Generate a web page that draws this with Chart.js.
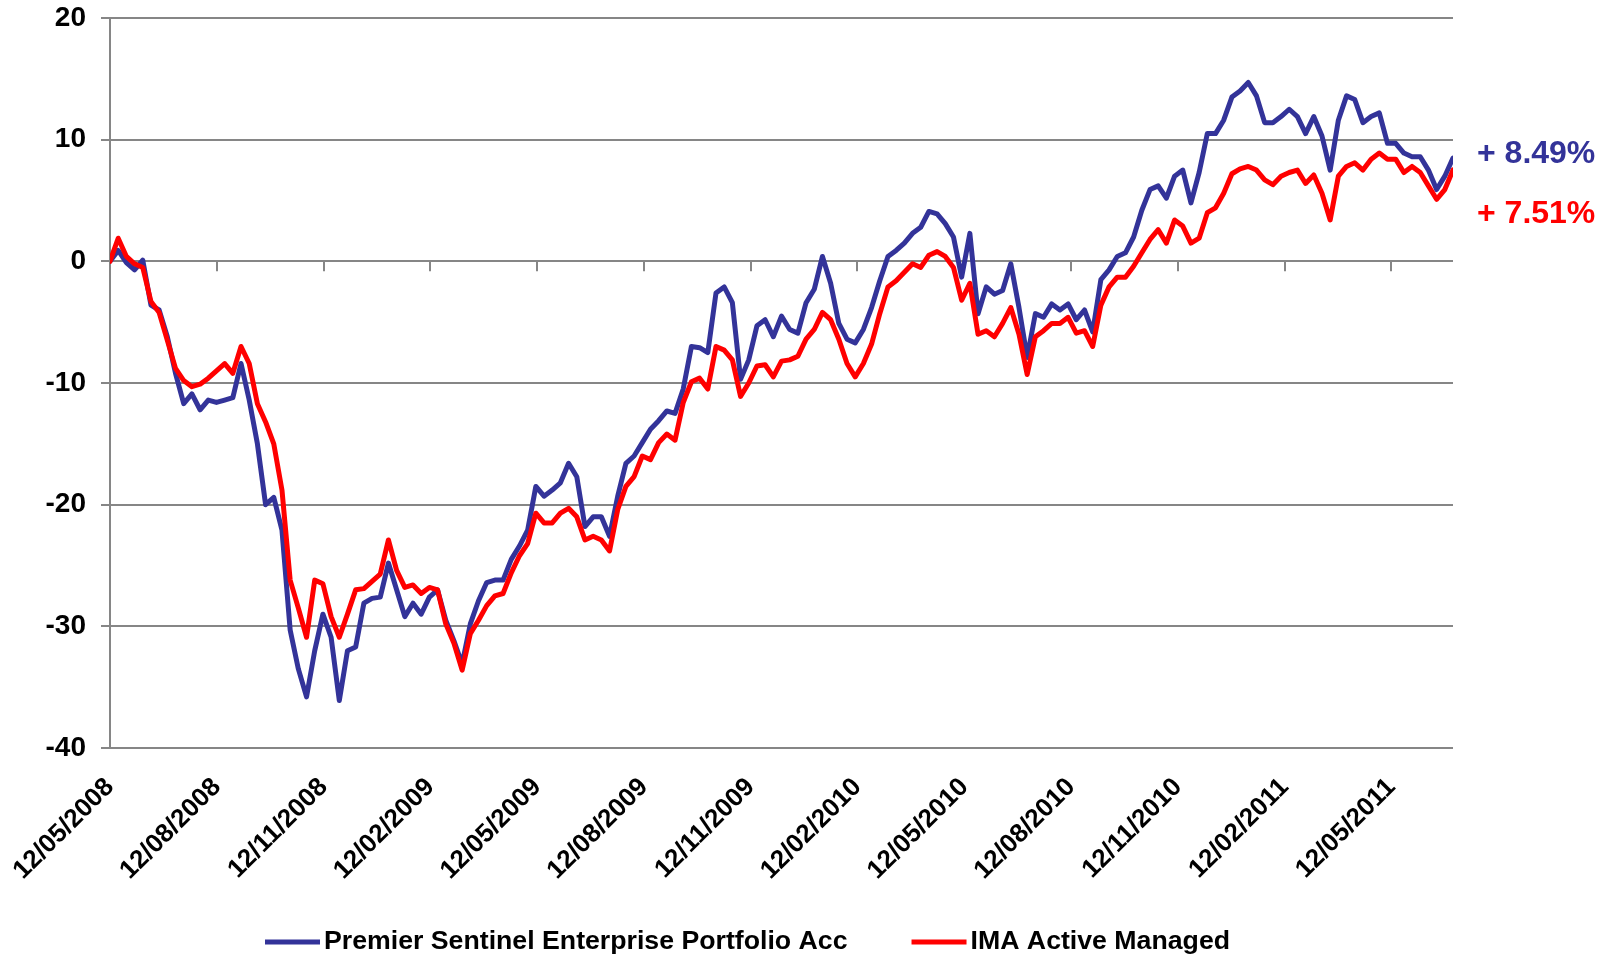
<!DOCTYPE html>
<html>
<head>
<meta charset="utf-8">
<script src="https://cdn.jsdelivr.net/npm/chart.js@4.4.1/dist/chart.umd.min.js"></script>
<style>
  html, body { margin: 0; padding: 0; background: #fff; }
  canvas { display: block; }
</style>
</head>
<body>
<canvas id="chart" width="1608" height="958"></canvas>
<script>
// quarterly tick labels, one every 13.04 weeks from the start
const TICK_LABELS = [
  "12/05/2008", "12/08/2008", "12/11/2008", "12/02/2009", "12/05/2009",
  "12/08/2009", "12/11/2009", "12/02/2010", "12/05/2010", "12/08/2010",
  "12/11/2010", "12/02/2011", "12/05/2011"
];
const WEEKS_PER_QUARTER = 13.04;

const SERIES_NAMES = ["Premier Sentinel Enterprise Portfolio Acc", "IMA Active Managed"];
const END_LABELS = ["+ 8.49%", "+ 7.51%"];

// weekly % growth
const SENTINEL = [
  0, 0.9, -0.1, -0.7, 0.1, -3.6, -4.0, -6.2, -9.2, -11.7,
  -10.9, -12.2, -11.4, -11.6, -11.4, -11.2, -8.4, -11.4, -15.0, -20.0,
  -19.4, -22.1, -30.3, -33.5, -35.8, -32.0, -29.0, -30.9, -36.1, -32.0,
  -31.7, -28.1, -27.7, -27.6, -24.8, -27.0, -29.2, -28.1, -29.0, -27.6,
  -27.0, -29.5, -31.2, -33.1, -29.8, -27.9, -26.4, -26.2, -26.2, -24.5,
  -23.4, -22.1, -18.5, -19.3, -18.8, -18.2, -16.6, -17.7, -21.8, -21.0,
  -21.0, -22.6, -19.3, -16.6, -16.0, -14.9, -13.8, -13.1, -12.3, -12.5,
  -10.5, -7.0, -7.1, -7.5, -2.6, -2.1, -3.4, -9.7, -8.1, -5.3,
  -4.8, -6.2, -4.5, -5.6, -5.9, -3.4, -2.3, 0.4, -1.8, -5.1,
  -6.4, -6.7, -5.6, -3.8, -1.6, 0.4, 0.9, 1.5, 2.3, 2.8,
  4.1, 3.9, 3.1, 2.0, -1.3, 2.3, -4.3, -2.1, -2.7, -2.4,
  -0.2, -3.8, -7.9, -4.3, -4.6, -3.5, -4.0, -3.5, -4.8, -4.0,
  -5.8, -1.5, -0.7, 0.4, 0.7, 2.0, 4.2, 5.9, 6.2, 5.2,
  7.0, 7.5, 4.8, 7.3, 10.5, 10.5, 11.6, 13.5, 14.0, 14.7,
  13.6, 11.4, 11.4, 11.9, 12.5, 11.9, 10.5, 11.9, 10.3, 7.5,
  11.6, 13.6, 13.3, 11.4, 11.9, 12.2, 9.7, 9.7, 8.9, 8.6,
  8.6, 7.5, 5.9, 7.0, 8.49
];
const IMA_ACTIVE = [
  0, 1.9, 0.4, -0.2, -0.5, -3.3, -4.2, -6.5, -8.8, -9.8,
  -10.3, -10.1, -9.6, -9.0, -8.4, -9.2, -7.0, -8.4, -11.7, -13.2,
  -15.0, -18.8, -26.2, -28.5, -30.9, -26.2, -26.5, -29.2, -30.9, -29.0,
  -27.0, -26.9, -26.3, -25.7, -22.9, -25.4, -26.8, -26.6, -27.3, -26.8,
  -27.0, -29.8, -31.4, -33.6, -30.6, -29.5, -28.3, -27.5, -27.3, -25.6,
  -24.2, -23.2, -20.7, -21.5, -21.5, -20.7, -20.3, -21.0, -22.9, -22.6,
  -22.9, -23.8, -20.4, -18.5, -17.7, -16.0, -16.3, -14.9, -14.2, -14.7,
  -11.6, -9.9, -9.6, -10.5, -7.0, -7.3, -8.1, -11.1, -10.0, -8.6,
  -8.5, -9.5, -8.2, -8.1, -7.8, -6.4, -5.6, -4.2, -4.8, -6.4,
  -8.4, -9.5, -8.4, -6.8, -4.3, -2.1, -1.6, -0.9, -0.2, -0.5,
  0.5, 0.8, 0.4, -0.5, -3.2, -1.8, -6.0, -5.7, -6.2, -5.1,
  -3.8, -6.0, -9.3, -6.2, -5.7, -5.1, -5.1, -4.6, -5.9, -5.7,
  -7.0, -3.6, -2.1, -1.3, -1.3, -0.4, 0.7, 1.8, 2.6, 1.5,
  3.4, 2.9, 1.5, 1.9, 4.0, 4.4, 5.6, 7.2, 7.6, 7.8,
  7.5, 6.7, 6.3, 7.0, 7.3, 7.5, 6.4, 7.1, 5.6, 3.4,
  7.0, 7.8, 8.1, 7.5, 8.4, 8.9, 8.4, 8.4, 7.3, 7.8,
  7.3, 6.2, 5.1, 5.9, 7.51
];

const BLUE = "#333399";
const RED = "#ff0000";
const GRID = "#868686";
const FONT = "'Liberation Sans', Arial, sans-serif";

const toPoints = values => values.map((y, x) => ({ x, y }));

// small tick marks hang from the zero line, as in Excel
const zeroTicks = {
  id: "zeroTicks",
  beforeDatasetsDraw(chart) {
    const { ctx, scales: { x, y } } = chart;
    const y0 = y.getPixelForValue(0);
    ctx.save();
    ctx.strokeStyle = GRID;
    ctx.lineWidth = 2;
    x.ticks.forEach(t => {
      const px = Math.round(x.getPixelForValue(t.value));
      ctx.beginPath();
      ctx.moveTo(px, y0);
      ctx.lineTo(px, y0 + 10);
      ctx.stroke();
    });
    ctx.restore();
  }
};

const endLabels = {
  id: "endLabels",
  afterDraw(chart) {
    const { ctx, chartArea } = chart;
    ctx.save();
    ctx.font = `bold 32px ${FONT}`;
    ctx.textBaseline = "middle";
    ctx.fillStyle = BLUE;
    ctx.fillText(END_LABELS[0], chartArea.right + 24, chartArea.top + 136);
    ctx.fillStyle = RED;
    ctx.fillText(END_LABELS[1], chartArea.right + 24, chartArea.top + 196);
    ctx.restore();
  }
};

const lineLegend = {
  id: "lineLegend",
  afterDraw(chart) {
    const { ctx, chartArea } = chart;
    const y = chart.height - 16;
    let x = chartArea.left + 155;
    ctx.save();
    ctx.font = `bold 26.7px ${FONT}`;
    ctx.textBaseline = "middle";
    [0, 1].forEach(i => {
      const ds = chart.data.datasets[i];
      ctx.fillStyle = ds.borderColor;
      ctx.fillRect(x, y - 2.5, 55, 5);
      ctx.fillStyle = "#000";
      ctx.fillText(ds.label, x + 59, y);
      x += 59 + ctx.measureText(ds.label).width + 64;
    });
    ctx.restore();
  }
};

new Chart(document.getElementById("chart"), {
  type: "line",
  data: {
    datasets: [
      { label: SERIES_NAMES[0], data: toPoints(SENTINEL), borderColor: BLUE, backgroundColor: BLUE, order: 1 },
      { label: SERIES_NAMES[1], data: toPoints(IMA_ACTIVE), borderColor: RED, backgroundColor: RED, order: 0 }
    ]
  },
  options: {
    responsive: false,
    animation: false,
    devicePixelRatio: 1,
    layout: { padding: { top: 18, right: 155, left: 0, bottom: 0 } },
    elements: {
      line: { borderWidth: 5, tension: 0, borderJoinStyle: "round", borderCapStyle: "round" },
      point: { radius: 0 }
    },
    plugins: { legend: { display: false }, tooltip: { enabled: false } },
    scales: {
      x: {
        type: "linear",
        min: 0,
        max: SENTINEL.length - 1,
        afterBuildTicks: scale => {
          scale.ticks = TICK_LABELS.map((_, i) => ({ value: i * WEEKS_PER_QUARTER }));
        },
        afterFit: scale => {
          scale.height = 210;
          scale.paddingLeft = 0;
          scale.paddingRight = 0;
        },
        grid: { display: false },
        border: { display: false },
        ticks: {
          autoSkip: false,
          minRotation: 45,
          maxRotation: 45,
          padding: 16,
          color: "#000",
          font: { family: FONT, size: 26, weight: "bold" },
          callback: (value, index) => TICK_LABELS[index]
        }
      },
      y: {
        min: -40,
        max: 20,
        afterFit: scale => {
          scale.width = 110;
          scale.paddingTop = 0;
          scale.paddingBottom = 0;
        },
        grid: { color: GRID, lineWidth: 2, tickLength: 9, drawTicks: true },
        border: { display: true, color: GRID, width: 2 },
        ticks: {
          stepSize: 10,
          padding: 15,
          color: "#000",
          font: { family: FONT, size: 28, weight: "bold" }
        }
      }
    }
  },
  plugins: [zeroTicks, endLabels, lineLegend]
});
</script>
</body>
</html>
